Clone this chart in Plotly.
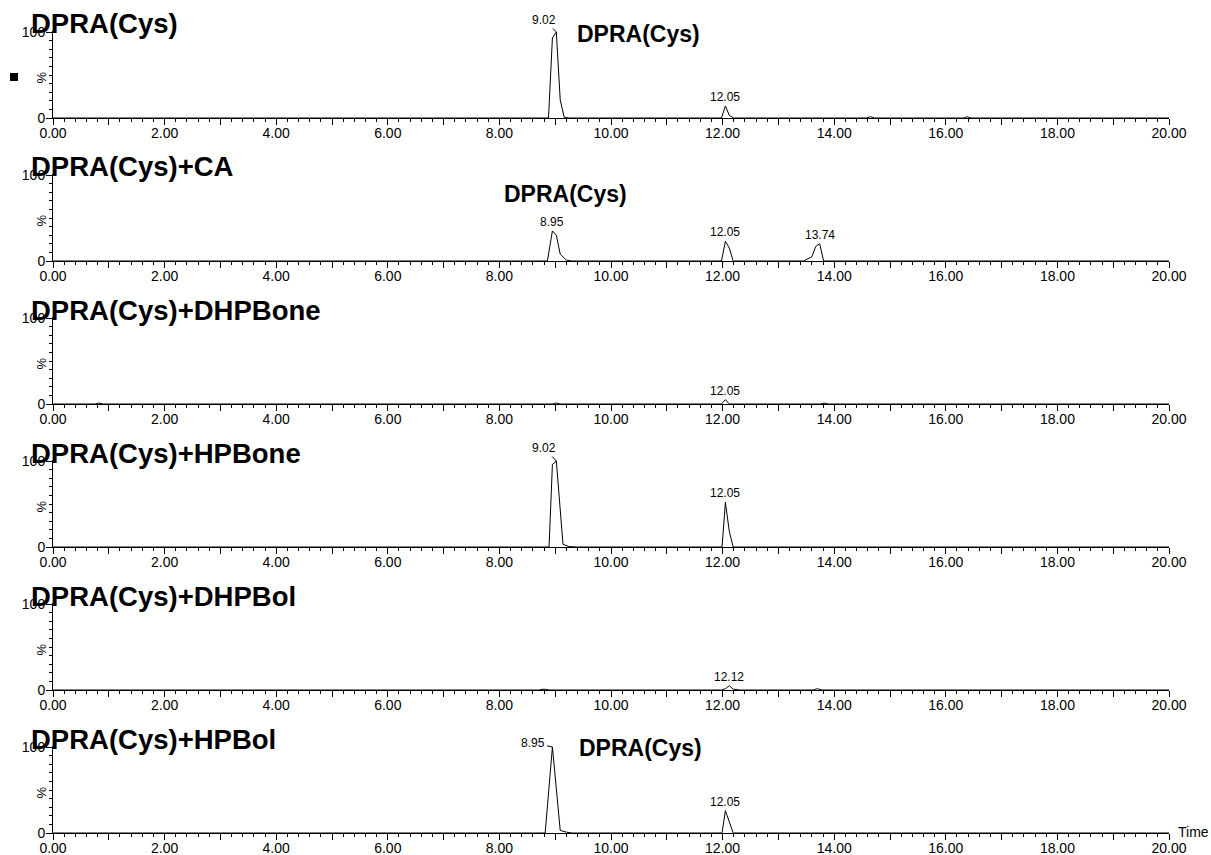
import plotly.graph_objects as go

# ---------------- data ----------------
titles = ["DPRA(Cys)", "DPRA(Cys)+CA", "DPRA(Cys)+DHPBone",
          "DPRA(Cys)+HPBone", "DPRA(Cys)+DHPBol", "DPRA(Cys)+HPBol"]

t1 = [0, 8.88, 8.95, 9.02, 9.09, 9.16, 9.25, 11.98, 12.05, 12.12, 12.2,
      14.58, 14.65, 14.72, 16.32, 16.38, 16.45, 20]
i1 = [0, 0, 93, 100, 21, 1, 0, 0, 14, 3, 0, 0, 1.5, 0, 0, 1.5, 0, 0]

t2 = [0, 8.86, 8.95, 9.02, 9.09, 9.2, 9.3, 11.98, 12.05, 12.12, 12.19,
      13.45, 13.6, 13.67, 13.74, 13.81, 20]
i2 = [0, 0, 35, 30, 8, 1, 0, 0, 23, 15, 0, 0, 5, 17, 20, 0, 0]

t3 = [0, 0.75, 0.82, 0.9, 8.95, 9.02, 9.09, 11.98, 12.05, 12.12,
      13.75, 13.82, 13.9, 20]
i3 = [0, 0, 1, 0, 0, 1.2, 0, 0, 5, 0, 0, 1, 0, 0]

t4 = [0, 8.89, 8.95, 9.02, 9.14, 9.25, 9.4, 11.99, 12.05, 12.12, 12.19, 20]
i4 = [0, 0, 96, 100, 3, 0.5, 0, 0, 52, 18, 0, 0]

t5 = [0, 8.7, 8.8, 8.9, 11.98, 12.05, 12.12, 12.19, 12.3, 13.62, 13.7, 13.78, 20]
i5 = [0, 0, 1, 0, 0, 1.5, 5, 1, 0, 0, 1.5, 0, 0]

t6 = [0, 8.82, 8.95, 9.09, 9.2, 9.3, 11.99, 12.05, 12.19, 20]
i6 = [0, 0, 100, 3, 1, 0, 0, 26, 0, 0]

times = [t1, t2, t3, t4, t5, t6]
intens = [i1, i2, i3, i4, i5, i6]

# peak labels: (text, time, intensity, leader)
peak_labels = [
    [("9.02", 9.02, 100, True), ("12.05", 12.05, 14, False)],
    [("8.95", 8.95, 35, False), ("12.05", 12.05, 23, False), ("13.74", 13.74, 20, False)],
    [("12.05", 12.05, 5, False)],
    [("9.02", 9.02, 100, True), ("12.05", 12.05, 52, False)],
    [("12.12", 12.12, 5, False)],
    [("8.95", 8.95, 100, True), ("12.05", 12.05, 26, False)],
]

# compound annotation inside panels: (panel, x, y)
compound_text = "DPRA(Cys)"
compound_pos = [(0, 10.5, 98), (1, 9.18, 78), (3, 10.52, 106), (5, 10.52, 99)]

xtick_vals = list(range(0, 21))
xtick_text = [f"{v:.2f}" if v % 2 == 0 else "" for v in xtick_vals]

# ---------------- layout geometry ----------------
W, H = 1211, 855
X0, X1 = 53, 1169
BASE0, STEP, AXH = 118, 143, 86
FONT = "Arial, Liberation Sans, sans-serif"

fig = go.Figure()
annotations = []
shapes = []

leader_offsets = {0: (-12, -12), 3: (-12, -13), 5: (-19, -4)}

for k in range(6):
    n = "" if k == 0 else str(k + 1)
    base = BASE0 + STEP * k
    top = base - AXH * 1.01
    fig.add_trace(go.Scatter(
        x=times[k], y=intens[k], mode="lines",
        line=dict(color="black", width=1),
        xaxis="x" + n, yaxis="y" + n, showlegend=False, hoverinfo="skip"))

    common_x = dict(
        domain=[X0 / W, X1 / W], range=[0, 20], showgrid=False, zeroline=False,
        automargin=False,
        showline=True, linecolor="black", linewidth=1,
        tickmode="array", tickvals=xtick_vals, ticktext=xtick_text,
        ticks="outside", ticklen=6, tickcolor="black", tickwidth=1,
        ticklabelstandoff=-4,
        tickfont=dict(family=FONT, size=14, color="black"),
        minor=dict(dtick=0.2, ticklen=3, ticks="outside", tickcolor="black",
                   showgrid=False),
        anchor="y" + n,
    )
    common_y = dict(
        domain=[1 - base / H, 1 - top / H], range=[0, 101], showgrid=False,
        zeroline=False, automargin=False,
        showline=True, linecolor="black", linewidth=1,
        tickmode="array", tickvals=[0, 100], ticktext=["0", "100"],
        ticks="outside", ticklen=6, tickcolor="black", tickwidth=1,
        ticklabelstandoff=-2,
        tickfont=dict(family=FONT, size=14, color="black"),
        minor=dict(dtick=10, ticklen=3, ticks="outside", tickcolor="black",
                   showgrid=False),
        anchor="x" + n,
    )
    fig.layout["xaxis" + n] = common_x
    fig.layout["yaxis" + n] = common_y

    # panel title
    annotations.append(dict(
        text="<b>" + titles[k] + "</b>", xref="paper", yref="paper",
        x=29 / W, y=1 - (24 + STEP * k) / H, xanchor="left", yanchor="middle",
        showarrow=False, font=dict(family=FONT, size=27.5, color="black")))
    # % label
    annotations.append(dict(
        text="%", xref="paper", yref="paper",
        x=41 / W, y=1 - (base - 40.5) / H, xanchor="center", yanchor="middle",
        textangle=-90, showarrow=False,
        font=dict(family=FONT, size=13, color="black")))

    # peak labels
    for (txt, tx, ty, leader) in peak_labels[k]:
        if leader:
            ax, ay = leader_offsets[k]
            annotations.append(dict(
                text=txt, x=tx, y=ty, xref="x" + n, yref="y" + n,
                showarrow=True, arrowhead=0, arrowwidth=1, arrowcolor="black",
                ax=ax, ay=ay, standoff=0,
                font=dict(family=FONT, size=12, color="black")))
        else:
            annotations.append(dict(
                text=txt, x=tx, y=ty, xref="x" + n, yref="y" + n,
                showarrow=False, yanchor="bottom", yshift=0,
                font=dict(family=FONT, size=12, color="black")))

for (k, cx, cy) in compound_pos:
    n = "" if k == 0 else str(k + 1)
    annotations.append(dict(
        text="<b>" + compound_text + "</b>", x=cx, y=cy, xref="x" + n, yref="y" + n,
        showarrow=False, xanchor="center", yanchor="middle",
        font=dict(family=FONT, size=23, color="black")))

# "Time" label
annotations.append(dict(
    text="Time", xref="paper", yref="paper", x=1176 / W, y=1 - 832 / H,
    xanchor="left", yanchor="middle", showarrow=False,
    font=dict(family=FONT, size=14, color="black")))

# small black square marker on the left of first panel
shapes.append(dict(type="rect", xref="paper", yref="paper",
                   x0=10 / W, x1=18 / W, y0=1 - 81 / H, y1=1 - 73 / H,
                   fillcolor="black", line=dict(width=0)))

fig.update_layout(
    width=W, height=H, margin=dict(l=0, r=0, t=0, b=0, autoexpand=False),
    paper_bgcolor="white", plot_bgcolor="white",
    annotations=annotations, shapes=shapes, showlegend=False,
)

fig.write_html(
    "out.html",
    config={"displayModeBar": False, "staticPlot": True},
    post_script="document.body.style.margin='0';document.body.style.padding='0';"
                "document.body.style.overflow='hidden';",
)
